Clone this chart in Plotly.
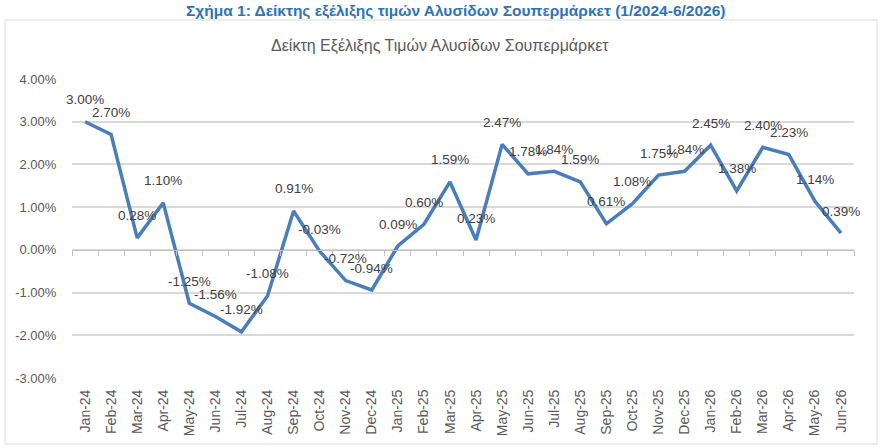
import plotly.graph_objects as go

months = ["Jan-24", "Feb-24", "Mar-24", "Apr-24", "May-24", "Jun-24", "Jul-24", "Aug-24",
          "Sep-24", "Oct-24", "Nov-24", "Dec-24", "Jan-25", "Feb-25", "Mar-25", "Apr-25",
          "May-25", "Jun-25", "Jul-25", "Aug-25", "Sep-25", "Oct-25", "Nov-25", "Dec-25",
          "Jan-26", "Feb-26", "Mar-26", "Apr-26", "May-26", "Jun-26"]
values = [3.00, 2.70, 0.28, 1.10, -1.25, -1.56, -1.92, -1.08, 0.91, -0.03, -0.72, -0.94,
          0.09, 0.60, 1.59, 0.23, 2.47, 1.78, 1.84, 1.59, 0.61, 1.08, 1.75, 1.84,
          2.45, 1.38, 2.40, 2.23, 1.14, 0.39]
y_ticks = [4, 3, 2, 1, 0, -1, -2, -3]

W, H = 880, 448
L, R, T, B = 72, 26, 79, 70
pw, ph = W - L - R, H - T - B

def px_x(x):
    return (x - L) / pw

def px_y(y):
    return (H - B - y) / ph

FONT = "Liberation Sans, Arial, sans-serif"
idx = list(range(len(months)))

fig = go.Figure()
fig.add_trace(go.Scatter(x=idx, y=values, mode="lines",
                         line=dict(color="#4A7EBB", width=3.5), hoverinfo="skip"))
fig.add_trace(go.Scatter(x=[], y=[], xaxis="x2", yaxis="y", showlegend=False))

annotations = []
for i, v in zip(idx, values):
    annotations.append(dict(x=i, y=v, xref="x", yref="y", text=f"{v:.2f}%",
                            showarrow=False, yshift=22,
                            font=dict(family=FONT, size=13.5, color="#404040")))

annotations.append(dict(x=px_x(455), y=px_y(11), xref="paper", yref="paper",
                        text="<b>Σχήμα 1: Δείκτης εξέλιξης τιμών Αλυσίδων Σουπερμάρκετ (1/2024-6/2026)</b>",
                        showarrow=False, xanchor="center", yanchor="middle",
                        font=dict(family=FONT, size=15.5, color="#2E74B5")))
annotations.append(dict(x=px_x(440), y=px_y(46), xref="paper", yref="paper",
                        text="Δείκτη Εξέλιξης Τιμών Αλυσίδων Σουπερμάρκετ",
                        showarrow=False, xanchor="center", yanchor="middle",
                        font=dict(family=FONT, size=16, color="#595959")))

shapes = [dict(type="rect", xref="paper", yref="paper",
               x0=px_x(5), x1=px_x(877), y0=px_y(444), y1=px_y(20),
               line=dict(color="#D9D9D9", width=1), fillcolor="rgba(0,0,0,0)", layer="below")]

fig.update_layout(
    width=W, height=H,
    margin=dict(l=L, r=R, t=T, b=B),
    paper_bgcolor="white", plot_bgcolor="white",
    showlegend=False,
    annotations=annotations,
    shapes=shapes,
    xaxis=dict(range=[-0.5, len(months) - 0.5], tickmode="array", tickvals=idx, ticktext=months,
               tickangle=-90, showgrid=False, showline=False, zeroline=False,
               ticks="outside", ticklen=5, tickcolor="rgba(0,0,0,0)",
               tickfont=dict(family=FONT, size=14, color="#595959")),
    xaxis2=dict(overlaying="x", anchor="free", position=3 / 7,
                range=[-0.5, len(months) - 0.5], tickmode="array",
                tickvals=[i - 0.5 for i in range(len(months) + 1)],
                showticklabels=False, showgrid=False, zeroline=False,
                showline=True, linecolor="#BFBFBF", linewidth=1,
                ticks="outside", ticklen=5, tickcolor="#BFBFBF", tickwidth=1),
    yaxis=dict(range=[-3, 4], tickmode="array", tickvals=y_ticks,
               ticktext=[f"{t:.2f}%" for t in y_ticks],
               showgrid=True, gridcolor="#D9D9D9", gridwidth=1.5,
               zeroline=False, showline=False, ticks="outside", ticklen=12,
               tickcolor="rgba(0,0,0,0)",
               tickfont=dict(family=FONT, size=13, color="#595959")),
)

fig.write_html("out.html")
